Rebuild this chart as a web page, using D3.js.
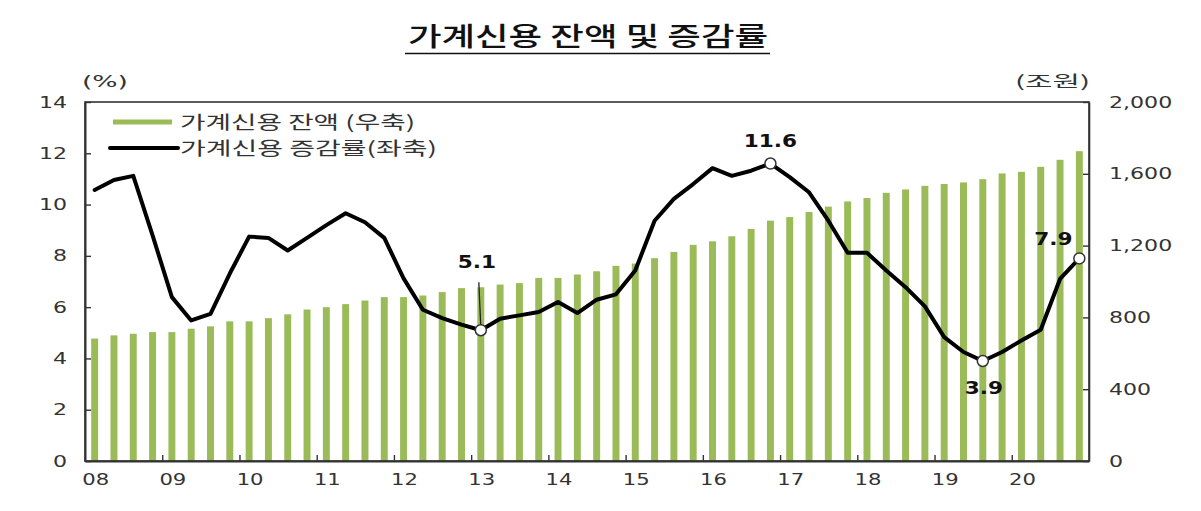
<!DOCTYPE html>
<html>
<head>
<meta charset="utf-8">
<script src="https://cdn.jsdelivr.net/npm/d3@7"></script>
<style>
  body { margin: 0; background: #fff; }
  svg { display: block; }
</style>
</head>
<body>
<div id="chart"></div>
<script>
// 분기별 가계신용 잔액(조원)과 전년동기대비 증감률(%)
const years = ["08", "09", "10", "11", "12", "13", "14", "15", "16", "17", "18", "19", "20"]
const quarters = years.flatMap(y => ["Q1", "Q2", "Q3", "Q4"].map(q => y + q))

const balance = [
  682, 700, 709, 718,
  718, 737, 750, 778,
  778, 796, 817, 844,
  857, 874, 894, 913,
  913, 922, 941, 963,
  968, 983, 991, 1020,
  1020, 1039, 1057, 1087,
  1100, 1130, 1165, 1204,
  1224, 1252, 1293, 1339,
  1359, 1387, 1417, 1446,
  1465, 1494, 1513, 1533,
  1543, 1552, 1570, 1602,
  1611, 1639, 1678, 1726
]

const growth = [
  10.57, 10.96, 11.12, 8.8,
  6.39, 5.48, 5.74, 7.31,
  8.75, 8.70, 8.21, 8.70,
  9.2, 9.66, 9.31, 8.70,
  7.12, 5.9, 5.57, 5.32,
  5.1, 5.55, 5.68, 5.81,
  6.2, 5.77, 6.29, 6.5,
  7.43, 9.37, 10.22, 10.8,
  11.42, 11.12, 11.32, 11.6,
  11.07, 10.48, 9.37, 8.12,
  8.12, 7.43, 6.78, 6.03,
  4.83, 4.25, 3.9, 4.25,
  4.7, 5.12, 7.1, 7.9
]

const leftTicks = [0, 2, 4, 6, 8, 10, 12, 14]
const rightTicks = [0, 400, 800, 1200, 1600, 2000]

// 표시할 값 (분기, 라벨)
const callouts = [["13Q1", "5.1"], ["16Q4", "11.6"], ["19Q3", "3.9"], ["20Q4", "7.9"]]

const size = [1201, 511]
const plot = {left: 85, right: 1089, top: 102, bottom: 461}
const numFont = "'DejaVu Sans', sans-serif"
const krFont = "'Noto Sans CJK KR', sans-serif"

// 원본 그림의 글자가 가로로 늘어나 있어서 textLength로 맞춤
function stretch(sel, k) {
  sel.each(function() {
    const w = this.getComputedTextLength()
    d3.select(this).attr("textLength", w * k).attr("lengthAdjust", "spacingAndGlyphs")
  })
}

const svg = d3.select("#chart").append("svg")
  .attr("width", size[0])
  .attr("height", size[1])

const x = d3.scaleBand()
  .domain(quarters)
  .range([plot.left, plot.right])
  .paddingInner(0.64)
  .paddingOuter(0.32)

const xEdge = d3.scaleLinear()
  .domain([0, quarters.length])
  .range([plot.left, plot.right])

const yL = d3.scaleLinear().domain([0, 14]).range([plot.bottom, plot.top])
const yR = d3.scaleLinear().domain([0, 2000]).range([plot.bottom, plot.top])

const cx = q => x(q) + x.bandwidth() / 2

// bars
svg.append("g")
  .selectAll("rect")
  .data(balance)
  .join("rect")
    .attr("x", (d, i) => x(quarters[i]))
    .attr("y", d => yR(d))
    .attr("width", x.bandwidth())
    .attr("height", d => yR(0) - yR(d))
    .attr("fill", "#9bbb59")

// frame
svg.append("rect")
  .attr("x", plot.left)
  .attr("y", plot.top)
  .attr("width", plot.right - plot.left)
  .attr("height", plot.bottom - plot.top)
  .attr("fill", "none")
  .attr("stroke", "#333")
  .attr("stroke-width", 1.6)

// left axis
const leftAxis = svg.append("g")
  .attr("transform", `translate(${plot.left},0)`)
  .call(d3.axisLeft(yL).tickValues(leftTicks).tickSize(-6).tickPadding(18).tickSizeOuter(0))
leftAxis.select(".domain").attr("stroke", "#333").attr("stroke-width", 2)
leftAxis.selectAll(".tick line").attr("stroke", "#333").attr("stroke-width", 1.4)
leftAxis.selectAll(".tick text")
  .attr("font-family", numFont)
  .attr("font-size", 16)
  .attr("fill", "#333")
  .call(stretch, 1.38)

// right axis
const rightAxis = svg.append("g")
  .attr("transform", `translate(${plot.right},0)`)
  .call(d3.axisRight(yR).tickValues(rightTicks).tickSize(-6).tickPadding(20).tickSizeOuter(0).tickFormat(d3.format(",")))
rightAxis.select(".domain").attr("stroke", "#333").attr("stroke-width", 1.6)
rightAxis.selectAll(".tick line").attr("stroke", "#333").attr("stroke-width", 1.4)
rightAxis.selectAll(".tick text")
  .attr("font-family", numFont)
  .attr("font-size", 16)
  .attr("fill", "#333")
  .call(stretch, 1.38)

// bottom axis: ticks at year boundaries
const bottomAxis = svg.append("g")
  .attr("transform", `translate(0,${plot.bottom})`)
  .call(d3.axisBottom(xEdge)
    .tickValues(d3.range(4, quarters.length, 4))
    .tickSize(-6)
    .tickSizeOuter(0)
    .tickFormat(""))
bottomAxis.select(".domain").attr("stroke", "#333").attr("stroke-width", 2)
bottomAxis.selectAll(".tick line").attr("stroke", "#333").attr("stroke-width", 1.4)

svg.append("g")
  .selectAll("text")
  .data(years)
  .join("text")
    .attr("x", d => cx(d + "Q1") + 1)
    .attr("y", plot.bottom + 24)
    .attr("text-anchor", "middle")
    .attr("font-family", numFont)
    .attr("font-size", 16)
    .attr("fill", "#333")
    .text(d => d)
    .call(stretch, 1.32)

// growth line
const line = d3.line()
  .x((d, i) => cx(quarters[i]))
  .y(d => yL(d))

svg.append("path")
  .datum(growth)
  .attr("d", line)
  .attr("fill", "none")
  .attr("stroke", "#000")
  .attr("stroke-width", 4)
  .attr("stroke-linejoin", "round")
  .attr("stroke-linecap", "round")

// callouts
const calloutStyle = new Map([
  ["5.1", {dx: -4, dy: -62, leader: true}],
  ["11.6", {dx: 0, dy: -17}],
  ["3.9", {dx: 1, dy: 33}],
  ["7.9", {dx: -26, dy: -13}]
])

const marks = svg.append("g")
for (const [q, label] of callouts) {
  const i = quarters.indexOf(q)
  const px = cx(q)
  const py = yL(growth[i])
  const st = calloutStyle.get(label)
  if (st.leader) {
    marks.append("line")
      .attr("x1", px - 2).attr("y1", py + st.dy + 14)
      .attr("x2", px).attr("y2", py - 3)
      .attr("stroke", "#222")
      .attr("stroke-width", 1.3)
  }
  marks.append("circle")
    .attr("cx", px)
    .attr("cy", py)
    .attr("r", 5.5)
    .attr("fill", "#fff")
    .attr("stroke", "#333")
    .attr("stroke-width", 1.5)
  marks.append("text")
    .attr("x", px + st.dx)
    .attr("y", py + st.dy)
    .attr("text-anchor", "middle")
    .attr("font-family", numFont)
    .attr("font-weight", "bold")
    .attr("font-size", 18)
    .attr("fill", "#111")
    .text(label)
    .call(stretch, 1.2)
}

// legend
const legend = svg.append("g")
legend.append("line")
  .attr("x1", 113).attr("x2", 172)
  .attr("y1", 122).attr("y2", 122)
  .attr("stroke", "#9bbb59")
  .attr("stroke-width", 5)
legend.append("line")
  .attr("x1", 110).attr("x2", 178)
  .attr("y1", 148).attr("y2", 148)
  .attr("stroke", "#000")
  .attr("stroke-width", 4)
  .attr("stroke-linecap", "round")
legend.append("text")
  .attr("x", 180).attr("y", 129)
  .attr("font-family", krFont)
  .attr("font-size", 18)
  .attr("fill", "#333")
  .attr("textLength", 235)
  .attr("lengthAdjust", "spacingAndGlyphs")
  .text("가계신용 잔액 (우축)")
legend.append("text")
  .attr("x", 180).attr("y", 155)
  .attr("font-family", krFont)
  .attr("font-size", 18)
  .attr("fill", "#333")
  .attr("textLength", 257)
  .attr("lengthAdjust", "spacingAndGlyphs")
  .text("가계신용 증감률(좌축)")

// units
svg.append("text")
  .attr("x", 82).attr("y", 87)
  .attr("font-family", numFont)
  .attr("font-size", 15)
  .attr("fill", "#333")
  .attr("textLength", 46)
  .attr("lengthAdjust", "spacingAndGlyphs")
  .text("(%)")
svg.append("text")
  .attr("x", 1015).attr("y", 87)
  .attr("font-family", krFont)
  .attr("font-size", 16)
  .attr("fill", "#333")
  .attr("textLength", 75)
  .attr("lengthAdjust", "spacingAndGlyphs")
  .text("(조원)")

// title
svg.append("text")
  .attr("x", 408).attr("y", 46)
  .attr("font-family", krFont)
  .attr("font-weight", 500)
  .attr("font-size", 26)
  .attr("fill", "#111")
  .attr("textLength", 360)
  .attr("lengthAdjust", "spacingAndGlyphs")
  .text("가계신용 잔액 및 증감률")
svg.append("line")
  .attr("x1", 405).attr("x2", 770)
  .attr("y1", 53.5).attr("y2", 53.5)
  .attr("stroke", "#111")
  .attr("stroke-width", 1.6)
</script>
</body>
</html>
